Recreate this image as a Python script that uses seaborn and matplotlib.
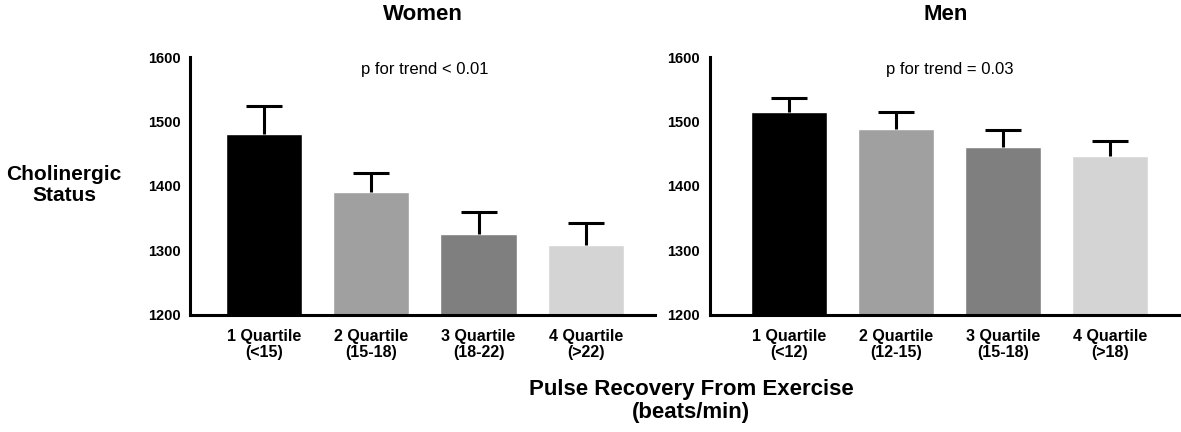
import pandas as pd
import seaborn as sns
import matplotlib.pyplot as plt

# Values
quartiles = ['1', '2', '3', '4']
women_labels = ['1 Quartile\n(<15)', '2 Quartile\n(15-18)', '3 Quartile\n(18-22)', '4 Quartile\n(>22)']
men_labels = ['1 Quartile\n(<12)', '2 Quartile\n(12-15)', '3 Quartile\n(15-18)', '4 Quartile\n(>18)']
women_means = [1481, 1391, 1326, 1309]
women_err = [43, 29, 34, 34]
men_means = [1515, 1489, 1460, 1446]
men_err = [22, 26, 27, 24]
bar_colors = ['#000000', '#a0a0a0', '#7f7f7f', '#d4d4d4']
women_note = 'p for trend < 0.01'
men_note = 'p for trend = 0.03'


def draw_panel(ax, means, errs, labels, title, note):
    df = pd.DataFrame({'quartile': quartiles, 'status': means})
    sns.barplot(data=df, x='quartile', y='status', hue='quartile', palette=bar_colors,
                legend=False, errorbar=None, width=0.71, saturation=1, ax=ax)
    # upper-only error bars: hide the cap at the bar top
    eb = ax.errorbar(range(len(means)), means, yerr=[[0] * len(errs), errs], fmt='none',
                     ecolor='black', elinewidth=2.2, capsize=13, capthick=2.2, zorder=3)
    eb.lines[1][0].set_visible(False)
    ax.set_ylim(1200, 1600)
    ax.set_yticks([1200, 1300, 1400, 1500, 1600])
    ax.set_xticks(range(len(labels)))
    ax.set_xticklabels(labels, fontsize=11.5, fontweight='bold', linespacing=1.1)
    for lab in ax.get_yticklabels():
        lab.set_fontweight('bold')
        lab.set_fontsize(10.5)
    ax.set_xlabel('')
    ax.set_ylabel('')
    ax.set_title(title, fontsize=16, fontweight='bold', pad=27)
    ax.text(1.5, 1580, note, ha='center', va='center', fontsize=12)
    sns.despine(ax=ax)
    for side in ['left', 'bottom']:
        ax.spines[side].set_linewidth(2.2)
        ax.spines[side].set_color('black')
    ax.tick_params(axis='both', width=2.2, length=5, pad=2, colors='black')
    ax.tick_params(axis='x', length=6, pad=4)


def main():
    sns.set_theme(style='white')
    plt.rcParams['font.family'] = ['Liberation Sans', 'DejaVu Sans']
    plt.rcParams['text.color'] = 'black'
    plt.rcParams['axes.edgecolor'] = 'black'

    fig = plt.figure(figsize=(11.81, 4.32), dpi=100)
    ax_w = fig.add_axes([0.161, 0.271, 0.394, 0.597])
    ax_m = fig.add_axes([0.601, 0.271, 0.399, 0.597])

    draw_panel(ax_w, women_means, women_err, women_labels, 'Women', women_note)
    ax_w.set_xlim(-0.69, 3.65)
    draw_panel(ax_m, men_means, men_err, men_labels, 'Men', men_note)
    ax_m.set_xlim(-0.74, 3.66)

    fig.text(64 / 1181, 1 - 185 / 432, 'Cholinergic\nStatus', ha='center', va='center',
             fontsize=15, fontweight='bold', linespacing=1.1)
    fig.text(691 / 1181, 1 - 401 / 432, 'Pulse Recovery From Exercise\n(beats/min)',
             ha='center', va='center', fontsize=16, fontweight='bold', linespacing=1.1)

    fig.savefig('out.png', dpi=100)
    plt.close(fig)


if __name__ == "__main__":
    main()
